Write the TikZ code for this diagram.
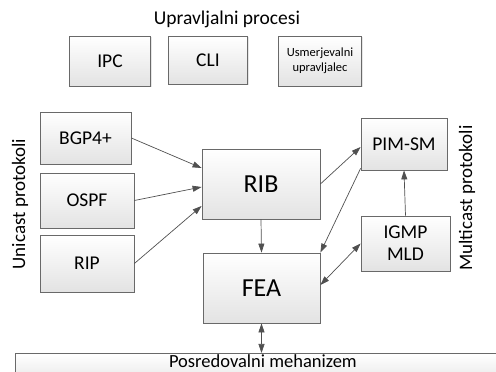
\documentclass[tikz,border=0pt]{standalone}
\usepackage{fontspec}
\setmainfont{Carlito}
\usetikzlibrary{arrows.meta,positioning,calc,shadows}
\definecolor{boxline}{RGB}{105,105,105}
\definecolor{arrline}{RGB}{80,80,80}
\tikzset{
  blok/.style={rectangle,draw=boxline,line width=0.8pt,top color=white,
    bottom color=gray!22,align=center,inner sep=2pt,
    drop shadow={opacity=0.2,shadow xshift=1pt,shadow yshift=-1pt},
    font=\fontsize{19.5}{21}\selectfont},
  velik/.style={blok,minimum width=118pt,minimum height=70pt,
    font=\fontsize{26}{28}\selectfont},
  puscica/.style={-{Triangle[length=9pt,width=6pt]},line width=0.7pt,draw=arrline},
  dvojna/.style={{Triangle[length=9pt,width=6pt]}-{Triangle[length=9pt,width=6pt]},
    line width=0.7pt,draw=arrline},
  oznaka/.style={font=\fontsize{19}{21}\selectfont},
}

\begin{document}
\begin{tikzpicture}[x=1pt,y=1pt]
  \useasboundingbox (0,0) rectangle (496,372);
  % upravljalni procesi
  \node[oznaka,font=\fontsize{19.5}{21}\selectfont] (naslov) at (227,353) {Upravljalni procesi};
  \node[blok,minimum width=81pt,minimum height=50pt] (ipc) at (110,311) {IPC};
  \node[blok,minimum width=79pt,minimum height=48pt] (cli) at (208,312) {CLI};
  \node[blok,minimum width=83pt,minimum height=50pt,
    font=\fontsize{12.5}{15}\selectfont] (usm) at (320,311) {Usmerjevalni\\upravljalec};

  % unicast protokoli
  \node[blok,minimum width=91pt,minimum height=52pt] (bgp) at (85.5,234) {BGP4+};
  \node[blok,minimum width=94pt,minimum height=55pt] (ospf) at (87,171.5) {OSPF};
  \node[blok,minimum width=94pt,minimum height=57pt] (rip) at (87,108.5) {RIP};
  \node[oznaka,rotate=90] (uni) at (20,168) {Unicast protokoli};

  % jedro
  \node[velik] (rib) at (261,188) {RIB};
  \node[velik,minimum width=117pt] (fea) at (261.5,84) {FEA};

  % multicast protokoli
  \node[blok,minimum width=86pt,minimum height=52pt] (pim) at (404,228) {PIM-SM};
  \node[blok,minimum width=89pt,minimum height=55pt,
    font=\fontsize{19.5}{22}\selectfont] (igmp) at (405.5,128.5) {IGMP\\MLD};
  \node[oznaka,rotate=90] (multi) at (467,174) {Multicast protokoli};

  % posredovalni mehanizem
  \node[blok,minimum width=495pt,anchor=north west,inner ysep=0pt,
    font=\fontsize{18.5}{20}\selectfont,
    text height=14pt,text depth=20pt] (pos) at (15,19) {Posredovalni mehanizem};

  \draw[puscica] (bgp.east) -- ([yshift=16pt]rib.west);
  \draw[puscica] (ospf.east) -- ([yshift=-3pt]rib.west);
  \draw[puscica] (rip.east) -- ([yshift=-22pt]rib.west);
  \draw[puscica] (rib.south) -- (fea.north);
  \draw[puscica] (rib.east) -- ([yshift=-3pt]pim.west);
  \draw[puscica] ([yshift=2pt]pim.south west) -- (fea.north east);
  \draw[puscica] (igmp.north) -- (pim.south);
  \draw[dvojna] (igmp.west) -- ([yshift=3pt]fea.east);
  \draw[dvojna] (fea.south) -- (fea.south |- pos.north);
\end{tikzpicture}
\end{document}
